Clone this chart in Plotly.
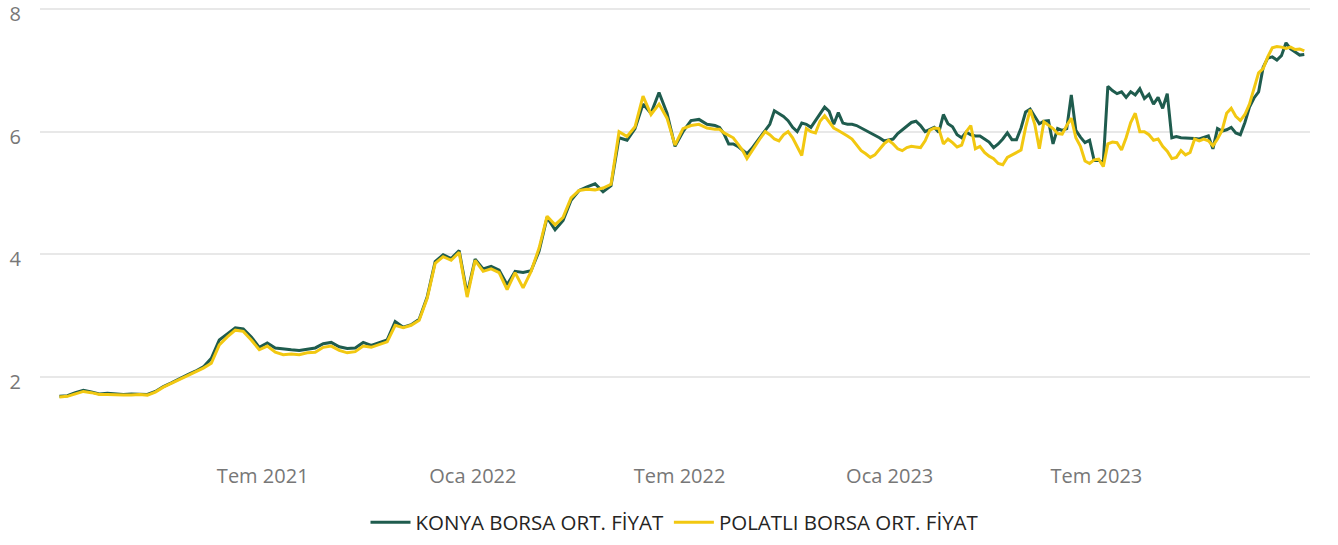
import pandas as pd
import plotly.graph_objects as go

# Weekly observations 2021-01-04 .. 2022-07-25
weekly_start = "2021-01-04"
# 4-day observations 2022-08-01 .. 2023-12-30
recent_start = "2022-08-01"

konya_weekly = [
    1.68, 1.69, 1.74, 1.78, 1.75, 1.72, 1.73, 1.72, 1.71, 1.72,
    1.72, 1.71, 1.76, 1.84, 1.90, 1.97, 2.03, 2.09, 2.16, 2.30,
    2.60, 2.70, 2.80, 2.78, 2.65, 2.48, 2.55, 2.47, 2.45, 2.44,
    2.43, 2.45, 2.47, 2.54, 2.56, 2.49, 2.46, 2.47, 2.56, 2.51,
    2.55, 2.60, 2.90, 2.81, 2.85, 2.94, 3.30, 3.88, 3.99, 3.93,
    4.06, 3.35, 3.92, 3.76, 3.80, 3.74, 3.50, 3.72, 3.70, 3.73,
    4.05, 4.60, 4.40, 4.55, 4.88, 5.04, 5.10, 5.15, 5.02, 5.12,
    5.90, 5.86, 6.05, 6.45, 6.30, 6.64, 6.30, 5.76, 6.00, 6.18,
    6.20, 6.12,
]

polatli_weekly = [
    1.67, 1.68, 1.72, 1.76, 1.74, 1.71, 1.71, 1.70, 1.70, 1.70,
    1.71, 1.70, 1.75, 1.83, 1.89, 1.96, 2.02, 2.07, 2.14, 2.22,
    2.52, 2.65, 2.76, 2.74, 2.60, 2.44, 2.50, 2.40, 2.36, 2.37,
    2.36, 2.39, 2.40, 2.48, 2.50, 2.43, 2.39, 2.41, 2.50, 2.48,
    2.52, 2.57, 2.84, 2.80, 2.84, 2.92, 3.28, 3.85, 3.96, 3.90,
    4.03, 3.30, 3.90, 3.72, 3.76, 3.70, 3.42, 3.70, 3.45, 3.72,
    4.10, 4.62, 4.48, 4.60, 4.92, 5.04, 5.06, 5.05, 5.08, 5.14,
    6.00, 5.92, 6.08, 6.58, 6.28, 6.45, 6.22, 5.78, 6.05, 6.10,
    6.12, 6.06,
]

konya_recent = [
    6.10, 6.07, 5.96, 5.80, 5.80, 5.76, 5.70, 5.64, 5.72, 5.82,
    5.92, 6.00, 6.12, 6.34, 6.30, 6.25, 6.18, 6.07, 6.00, 6.14,
    6.12, 6.07, 6.18, 6.30, 6.40, 6.33, 6.12, 6.31, 6.14, 6.12,
    6.12, 6.10, 6.06, 6.02, 5.98, 5.95, 5.90, 5.85, 5.87, 5.88,
    5.97, 6.03, 6.10, 6.15, 6.17, 6.10, 6.00, 6.04, 6.07, 5.99,
    6.28, 6.13, 6.08, 5.95, 5.90, 5.99, 5.95, 5.93, 5.93, 5.88,
    5.83, 5.74, 5.80, 5.88, 5.98, 5.87, 5.87, 6.06, 6.32, 6.37,
    6.26, 6.13, 6.17, 6.18, 5.80, 6.05, 6.02, 6.05, 6.60, 6.02,
    5.91, 5.82, 5.86, 5.53, 5.53, 5.50, 6.74, 6.67, 6.62, 6.65,
    6.56, 6.65, 6.60, 6.70, 6.54, 6.61, 6.45, 6.56, 6.38, 6.62,
    5.90, 5.92, 5.90, 5.90, 5.90, 5.89, 5.88, 5.90, 5.93, 5.72,
    6.05, 6.01, 6.03, 6.07, 5.98, 5.95, 6.15, 6.40, 6.55, 6.65,
    7.05, 7.20, 7.22, 7.17, 7.24, 7.45, 7.35, 7.30, 7.25, 7.26,
]

polatli_recent = [
    6.04, 6.04, 5.98, 5.94, 5.90, 5.80, 5.70, 5.56, 5.68, 5.80,
    5.90, 6.00, 5.95, 5.88, 5.85, 5.95, 6.00, 5.90, 5.75, 5.61,
    6.05, 6.00, 5.98, 6.17, 6.26, 6.15, 6.06, 6.02, 5.98, 5.93,
    5.88, 5.78, 5.69, 5.64, 5.58, 5.62, 5.72, 5.80, 5.86, 5.80,
    5.72, 5.69, 5.74, 5.76, 5.75, 5.74, 5.85, 6.02, 6.06, 6.05,
    5.80, 5.88, 5.82, 5.75, 5.78, 6.00, 6.10, 5.72, 5.76, 5.66,
    5.60, 5.56, 5.48, 5.46, 5.58, 5.62, 5.67, 5.70, 6.07, 6.36,
    6.12, 5.72, 6.16, 6.10, 6.05, 5.97, 5.96, 6.10, 6.22, 5.90,
    5.76, 5.52, 5.48, 5.54, 5.55, 5.43, 5.80, 5.83, 5.82, 5.70,
    5.90, 6.15, 6.30, 6.00, 6.00, 5.95, 5.86, 5.88, 5.76, 5.68,
    5.56, 5.58, 5.69, 5.62, 5.66, 5.88, 5.85, 5.88, 5.85, 5.77,
    5.88, 6.02, 6.30, 6.38, 6.25, 6.18, 6.28, 6.45, 6.72, 6.96,
    7.03, 7.22, 7.37, 7.39, 7.38, 7.36, 7.38, 7.34, 7.35, 7.32,
]

series_names = ["KONYA BORSA ORT. FİYAT", "POLATLI BORSA ORT. FİYAT"]
series_colors = ["#1F5C4E", "#F2C811"]

tick_dates = ["2021-07-01", "2022-01-01", "2022-07-01", "2023-01-01", "2023-07-01"]
tick_labels = ["Tem 2021", "Oca 2022", "Tem 2022", "Oca 2023", "Tem 2023"]
y_ticks = [2, 4, 6, 8]

dates = pd.date_range(weekly_start, periods=len(konya_weekly), freq="7D").append(
    pd.date_range(recent_start, periods=len(konya_recent), freq="4D")
)
konya = konya_weekly + konya_recent
polatli = polatli_weekly + polatli_recent

fig = go.Figure()
for name, vals, col in zip(series_names, [konya, polatli], series_colors):
    fig.add_trace(go.Scatter(
        x=dates, y=vals, mode="lines", name=name,
        line=dict(color=col, width=3),
    ))

fig.update_layout(
    width=1338, height=545,
    margin=dict(l=40, r=28, t=3, b=105),
    paper_bgcolor="white", plot_bgcolor="white",
    font=dict(family="Open Sans, Segoe UI, sans-serif", size=20, color="#777777"),
    showlegend=True,
    legend=dict(
        orientation="h", x=0.5, xanchor="center", y=-0.2401, yanchor="bottom",
        font=dict(size=20.5, color="#252423"), itemwidth=40, tracegroupgap=0,
        bgcolor="rgba(0,0,0,0)",
    ),
    xaxis=dict(
        type="date", range=["2020-12-18", "2024-01-04"],
        tickvals=tick_dates, ticktext=tick_labels,
        showgrid=False, zeroline=False, showline=False, ticks="",
        ticklabelstandoff=24, automargin=False,
        tickfont=dict(size=20, color="#777777"),
    ),
    yaxis=dict(
        range=[1, 8.1], tickvals=y_ticks,
        showgrid=True, gridcolor="#E8E8E8", gridwidth=2,
        zeroline=False, showline=False, ticks="",
        ticklabelstandoff=18, ticklabelshift=5,
        automargin=False, ticklabeloverflow="allow",
        tickfont=dict(size=20, color="#777777"),
    ),
)

fig.write_html(
    "out.html",
    config={"displayModeBar": False},
    post_script="document.body.style.margin='0';document.body.style.overflow='hidden';",
)
